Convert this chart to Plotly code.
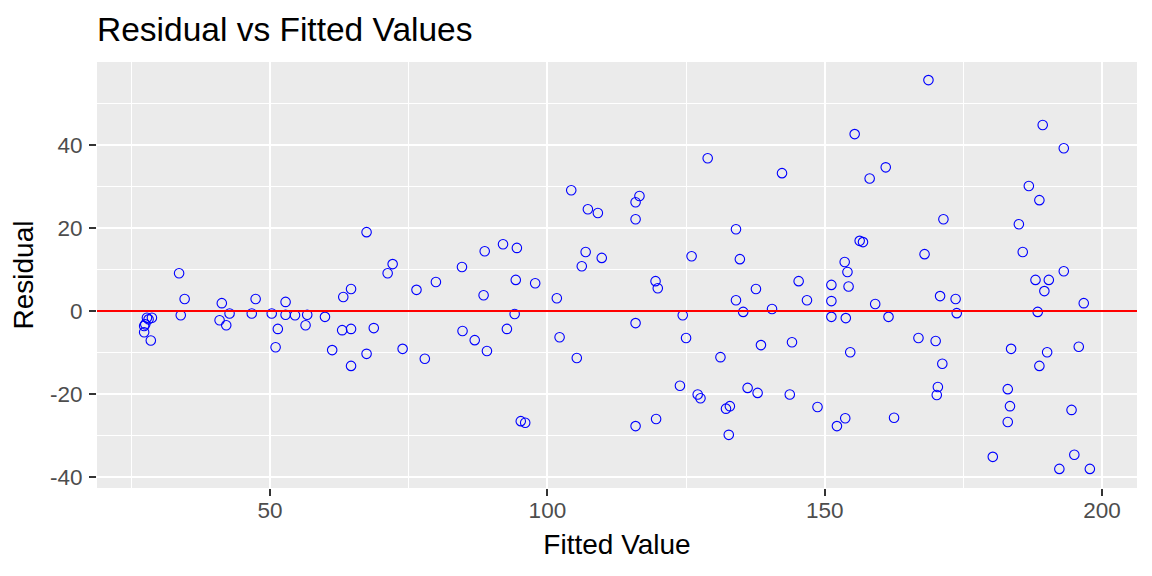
import plotly.graph_objects as go

# ==============================
# Data
# ==============================
fitted = [
    27.3, 27.5, 27.8, 28.7, 28.5, 27.3, 28.1, 33.6, 34.6, 33.9,
    41.3, 40.9, 42.1, 42.7, 47.4, 46.7, 50.3, 51.4, 51.0, 52.8,
    52.8, 54.5, 56.7, 56.4, 59.9, 61.2, 63.2, 64.6, 63.0, 64.6,
    64.6, 67.4, 67.4, 68.7, 71.2, 72.1, 73.9, 76.4, 77.9, 79.9,
    84.6, 84.7, 86.9, 88.5, 88.7, 89.1, 92.0, 92.7, 94.1, 94.3,
    94.5, 95.2, 96.0, 97.8, 101.7, 102.2, 104.3, 105.3, 106.2, 106.9,
    107.3, 109.1, 109.8, 115.9, 115.9, 116.6, 115.9, 115.9, 119.5, 119.9,
    119.6, 123.9, 124.4, 125.0, 126.0, 127.1, 127.6, 128.9, 131.2, 132.2,
    132.9, 132.7, 134.0, 134.0, 134.7, 135.3, 136.1, 137.6, 137.9, 138.5,
    140.5, 142.3, 143.7, 144.1, 145.3, 146.8, 148.7, 151.2, 151.2, 151.2,
    152.2, 153.6, 154.1, 154.3, 153.8, 153.7, 154.6, 155.4, 156.3, 156.9,
    158.1, 159.1, 161.0, 161.5, 162.5, 166.9, 168.0, 168.7, 170.0, 170.8,
    170.4, 170.2, 171.2, 171.4, 173.6, 173.8, 180.3, 183.0, 183.4, 183.0,
    183.6, 185.0, 185.7, 186.8, 188.0, 188.4, 188.7, 188.7, 189.3, 189.6,
    190.1, 190.4, 192.3, 193.1, 193.1, 194.5, 195.0, 195.8, 196.7, 197.8,
]
residual = [
    -5.1, -3.2, -1.6, -1.6, -7.1, -3.6, -2.0, 9.1, 2.9, -1.0,
    1.9, -2.2, -3.4, -0.6, 2.9, -0.6, -0.6, -4.3, -8.7, 2.2,
    -0.9, -1.0, -0.9, -3.4, -1.4, -9.4, 3.4, 5.3, -4.6, -4.3,
    -13.2, 19.0, -10.3, -4.1, 9.1, 11.3, -9.1, 5.1, -11.5, 7.0,
    10.6, -4.8, -7.0, 3.8, 14.4, -9.6, 16.1, -4.3, -0.7, 7.5,
    15.2, -26.5, -26.9, 6.7, 3.1, -6.3, 29.1, -11.3, 10.8, 14.2,
    24.5, 23.6, 12.8, 22.1, 26.2, 27.7, -2.9, -27.7, 7.2, 5.5,
    -26.0, -18.0, -1.0, -6.5, 13.2, -20.1, -21.0, 36.8, -11.1, -23.5,
    -22.9, -29.8, 19.7, 2.6, 12.5, -0.2, -18.5, 5.3, -19.7, -8.2,
    0.5, 33.2, -20.1, -7.5, 7.2, 2.6, -23.1, 6.3, 2.4, -1.4,
    -27.7, 11.8, 9.4, 5.9, -1.7, -25.8, -9.9, 42.6, 16.9, 16.6,
    31.9, 1.7, 34.6, -1.4, -25.7, -6.5, 13.7, 55.6, -7.2, 3.6,
    -18.3, -20.2, -12.7, 22.1, 2.9, -0.5, -35.1, -18.8, -22.9, -26.7,
    -9.1, 20.9, 14.2, 30.1, 7.5, -0.2, 26.7, -13.2, 44.8, 4.8,
    -9.9, 7.5, -38.0, 39.2, 9.6, -23.8, -34.6, -8.6, 1.9, -38.0,
]

x_ticks = [50, 100, 150, 200]
y_ticks = [-40, -20, 0, 20, 40]
y_tick_labels = ["-40", "-20", "0", "20", "40"]

# ==============================
# Plot
# ==============================
FONT = "Liberation Sans, Arial, sans-serif"
TICK_COLOR = "#4D4D4D"

fig = go.Figure()
fig.add_trace(
    go.Scatter(
        x=fitted,
        y=residual,
        mode="markers",
        marker=dict(symbol="circle-open", size=9.5, color="blue", line=dict(width=1.1)),
        showlegend=False,
        hoverinfo="x+y",
    )
)
fig.add_hline(y=0, line=dict(color="red", width=2))

# the page body has an 8px margin, so margins are shifted by that much
fig.update_layout(
    width=1152,
    height=576,
    margin=dict(l=89, r=23, t=54, b=96),
    paper_bgcolor="white",
    plot_bgcolor="#EBEBEB",
    font=dict(family=FONT),
    title=dict(
        text="Residual vs Fitted Values",
        x=89 / 1152, xanchor="left",
        y=1 - 21 / 576, yanchor="middle",
        font=dict(size=33.5, color="black"),
    ),
)
fig.update_xaxes(
    range=[18.8, 206.3],
    tickmode="array", tickvals=x_ticks,
    showgrid=True, gridcolor="white", gridwidth=2.2,
    minor=dict(tick0=25, dtick=50, showgrid=True, gridcolor="white", gridwidth=1.1),
    zeroline=False, automargin=False,
    ticks="outside", ticklen=7, tickcolor="#333333", tickwidth=2.2,
    ticklabelstandoff=-5,
    tickfont=dict(size=22.5, color=TICK_COLOR),
    title=dict(text="Fitted Value", font=dict(size=28, color="black"), standoff=12),
)
fig.update_yaxes(
    range=[-42.6, 59.96],
    tickmode="array", tickvals=y_ticks, ticktext=y_tick_labels,
    showgrid=True, gridcolor="white", gridwidth=2.2,
    minor=dict(tick0=10, dtick=20, showgrid=True, gridcolor="white", gridwidth=1.1),
    zeroline=False, automargin=False,
    ticks="outside", ticklen=7, tickcolor="#333333", tickwidth=2.2,
    ticklabelstandoff=2,
    tickfont=dict(size=22.5, color=TICK_COLOR),
    title=dict(text="Residual", font=dict(size=28, color="black"), standoff=12),
)

fig.write_html("out.html")
